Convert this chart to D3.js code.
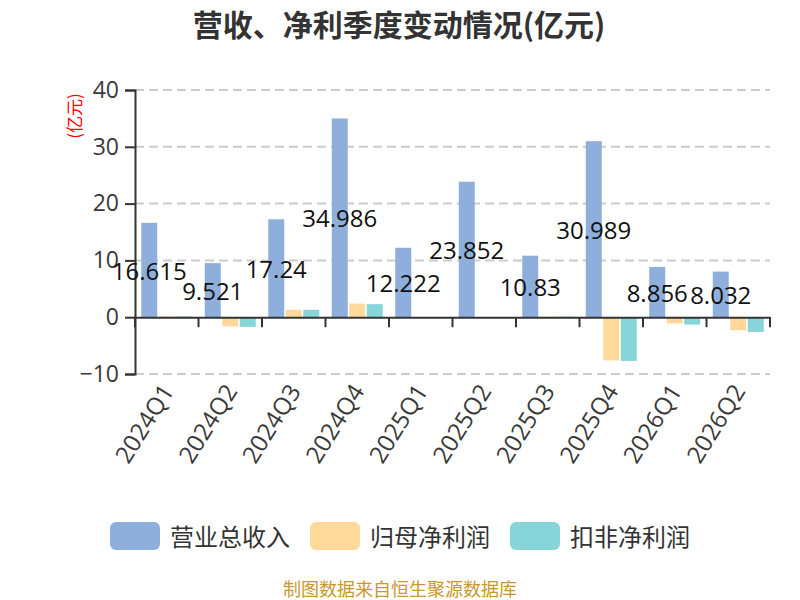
<!DOCTYPE html>
<html><head><meta charset="utf-8">
<script src="https://cdn.jsdelivr.net/npm/d3@7"></script>
<style>body{margin:0;background:#fff}svg{display:block}</style>
</head><body>
<svg id="c" width="800" height="600"></svg>
<script>
const categories = ["2024Q1","2024Q2","2024Q3","2024Q4","2025Q1","2025Q2","2025Q3","2025Q4","2026Q1","2026Q2"];
const revenue = [16.615, 9.521, 17.24, 34.986, 12.222, 23.852, 10.83, 30.989, 8.856, 8.032];
const netProfit = [0.15, -1.6, 1.3, 2.4, 0.03, 0.02, 0.1, -7.6, -1.1, -2.3];
const deductedProfit = [0.15, -1.7, 1.3, 2.3, 0.03, 0.02, 0.1, -7.7, -1.3, -2.6];
const seriesNames = ["营业总收入","归母净利润","扣非净利润"];
const colors = ["#8EAEDB","#FFD999","#88D5D9"];
const yTicks = [-10, 0, 10, 20, 30, 40];

const font = "'Open Sans','Noto Sans CJK SC',sans-serif";
const cjk = "'Noto Sans CJK SC','Open Sans',sans-serif";
const svg = d3.select("#c");
const L = 135, R = 770, T = 90, B = 374;
const x = d3.scaleBand().domain(categories).range([L, R]).paddingInner(0).paddingOuter(0);
const y = d3.scaleLinear().domain([-10, 40]).range([B, T]);
const barW = 16, gap = 1.5;
const groupW = barW * 3 + gap * 2;

// title
svg.append("text").attr("x", 399).attr("y", 23).attr("text-anchor", "middle")
  .attr("dominant-baseline", "central").attr("font-family", cjk).attr("font-weight", "bold")
  .attr("font-size", 30).attr("fill", "#333").text("营收、净利季度变动情况(亿元)");

// y-axis unit label
svg.append("text").attr("transform", "translate(73,116) rotate(-90)")
  .attr("text-anchor", "middle").attr("dominant-baseline", "central")
  .attr("font-family", cjk).attr("font-size", 17).attr("fill", "#FF0000").text("(亿元)");

// grid
svg.append("g").selectAll("line").data(yTicks.filter(d => d !== 0)).join("line")
  .attr("x1", L).attr("x2", R).attr("y1", d => y(d)).attr("y2", d => y(d))
  .attr("stroke", "#ccc").attr("stroke-width", 2).attr("stroke-dasharray", "9,5");

// bars
const series = [revenue, netProfit, deductedProfit];
series.forEach((vals, si) => {
  svg.append("g").selectAll("rect").data(vals).join("rect")
    .attr("x", (d, i) => x(categories[i]) + (x.bandwidth() - groupW) / 2 + si * (barW + gap))
    .attr("width", barW)
    .attr("y", d => y(Math.max(0, d)))
    .attr("height", d => Math.abs(y(d) - y(0)))
    .attr("fill", colors[si]);
});

// y axis
const yAxis = d3.axisLeft(y).tickValues(yTicks).tickSize(10).tickPadding(6);
const gy = svg.append("g").attr("transform", `translate(${L},0)`).call(yAxis);
gy.select(".domain").attr("stroke", "#333").attr("stroke-width", 2);
gy.selectAll(".tick line").attr("stroke", "#333").attr("stroke-width", 2);
gy.selectAll(".tick text").attr("font-family", font).attr("font-size", 23).attr("fill", "#3a3a3a");

// x axis at zero
const xAxis = d3.axisBottom(x).tickValues([]).tickSizeOuter(0);
const gx = svg.append("g").attr("transform", `translate(0,${y(0)})`).call(xAxis);
gx.select(".domain").attr("stroke", "#333").attr("stroke-width", 2);
const bounds = categories.map(c => x(c)).concat([R]);
gx.selectAll("line.bt").data(bounds).join("line").attr("class", "bt")
  .attr("x1", d => d).attr("x2", d => d).attr("y1", 0).attr("y2", 10)
  .attr("stroke", "#333").attr("stroke-width", 2);

// x labels
svg.append("g").selectAll("text").data(categories).join("text")
  .attr("transform", d => `translate(${x(d) + x.bandwidth() / 2},${B + 12}) rotate(-58)`)
  .attr("text-anchor", "end").attr("dominant-baseline", "central")
  .attr("font-family", font).attr("font-size", 24).attr("fill", "#3a3a3a").text(d => d);

// data labels
svg.append("g").selectAll("text").data(revenue).join("text")
  .attr("x", (d, i) => x(categories[i]) + (x.bandwidth() - groupW) / 2 + barW / 2)
  .attr("y", d => (y(d) + y(0)) / 2)
  .attr("text-anchor", "middle").attr("dominant-baseline", "central")
  .attr("font-family", font).attr("font-size", 24).attr("fill", "#111").text(d => d);

// legend
const legX = [110, 310, 510];
seriesNames.forEach((n, i) => {
  svg.append("rect").attr("x", legX[i]).attr("y", 522).attr("width", 50).attr("height", 28)
    .attr("rx", 6).attr("fill", colors[i]);
  svg.append("text").attr("x", legX[i] + 60).attr("y", 535).attr("dominant-baseline", "central")
    .attr("font-family", cjk).attr("font-size", 24).attr("fill", "#333").text(n);
});

// footer
svg.append("text").attr("x", 400).attr("y", 588).attr("text-anchor", "middle")
  .attr("dominant-baseline", "central").attr("font-family", cjk).attr("font-size", 18)
  .attr("fill", "#C9972C").text("制图数据来自恒生聚源数据库");
</script>
</body></html>
